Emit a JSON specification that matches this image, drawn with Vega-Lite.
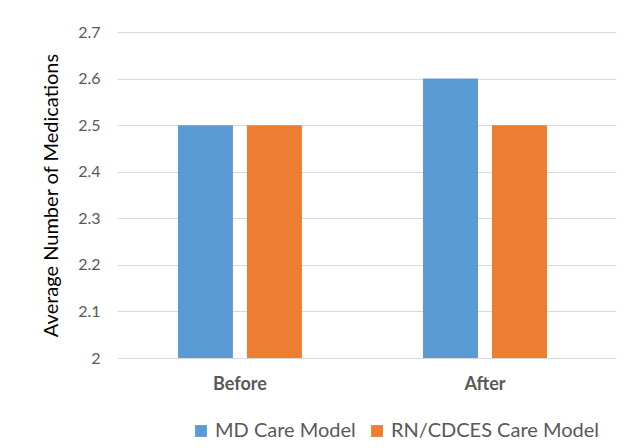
{
  "$schema": "https://vega.github.io/schema/vega-lite/v6.json",
  "width": 499,
  "height": 326,
  "autosize": {"type": "none"},
  "padding": {"left": 117, "top": 32, "right": 28, "bottom": 90},
  "background": "white",
  "config": {
    "font": "Lato",
    "view": {"stroke": null}
  },
  "data": {
    "values": [
      {"period": "Before", "model": "MD Care Model", "meds": 2.5},
      {"period": "Before", "model": "RN/CDCES Care Model", "meds": 2.5},
      {"period": "After", "model": "MD Care Model", "meds": 2.6},
      {"period": "After", "model": "RN/CDCES Care Model", "meds": 2.5}
    ]
  },
  "mark": {"type": "bar"},
  "encoding": {
    "x": {
      "field": "period",
      "type": "nominal",
      "sort": ["Before", "After"],
      "scale": {"paddingInner": 0.494, "paddingOuter": 0.265, "align": 0.469},
      "axis": {
        "title": null,
        "labelAngle": 0,
        "labelFontWeight": "bold",
        "labelFontSize": 18,
        "labelColor": "#595959",
        "labelPadding": 17,
        "domain": false,
        "ticks": false
      }
    },
    "xOffset": {
      "field": "model",
      "type": "nominal",
      "scale": {"paddingInner": 0.203, "paddingOuter": 0}
    },
    "y": {
      "field": "meds",
      "type": "quantitative",
      "scale": {"domain": [2, 2.7], "nice": false, "zero": false},
      "axis": {
        "values": [2, 2.1, 2.2, 2.3, 2.4, 2.5, 2.6, 2.7],
        "format": ".1~f",
        "title": "Average Number of Medications",
        "titleFontSize": 20,
        "titleFontWeight": "normal",
        "titleColor": "#000000",
        "titlePadding": 16,
        "labelFontSize": 16,
        "labelColor": "#595959",
        "labelPadding": 17,
        "domain": false,
        "ticks": false,
        "gridColor": "#d9d9d9",
        "gridWidth": 1
      }
    },
    "y2": {"datum": 2},
    "color": {
      "field": "model",
      "type": "nominal",
      "scale": {
        "domain": ["MD Care Model", "RN/CDCES Care Model"],
        "range": ["#5B9BD5", "#ED7D31"]
      },
      "legend": {
        "orient": "none",
        "legendX": 74,
        "legendY": 389,
        "direction": "horizontal",
        "title": null,
        "symbolType": "square",
        "symbolSize": 140,
        "symbolStrokeWidth": 0,
        "labelFontSize": 20,
        "labelLimit": 300,
        "labelColor": "#595959",
        "labelOffset": 4,
        "columnPadding": 11
      }
    }
  }
}
